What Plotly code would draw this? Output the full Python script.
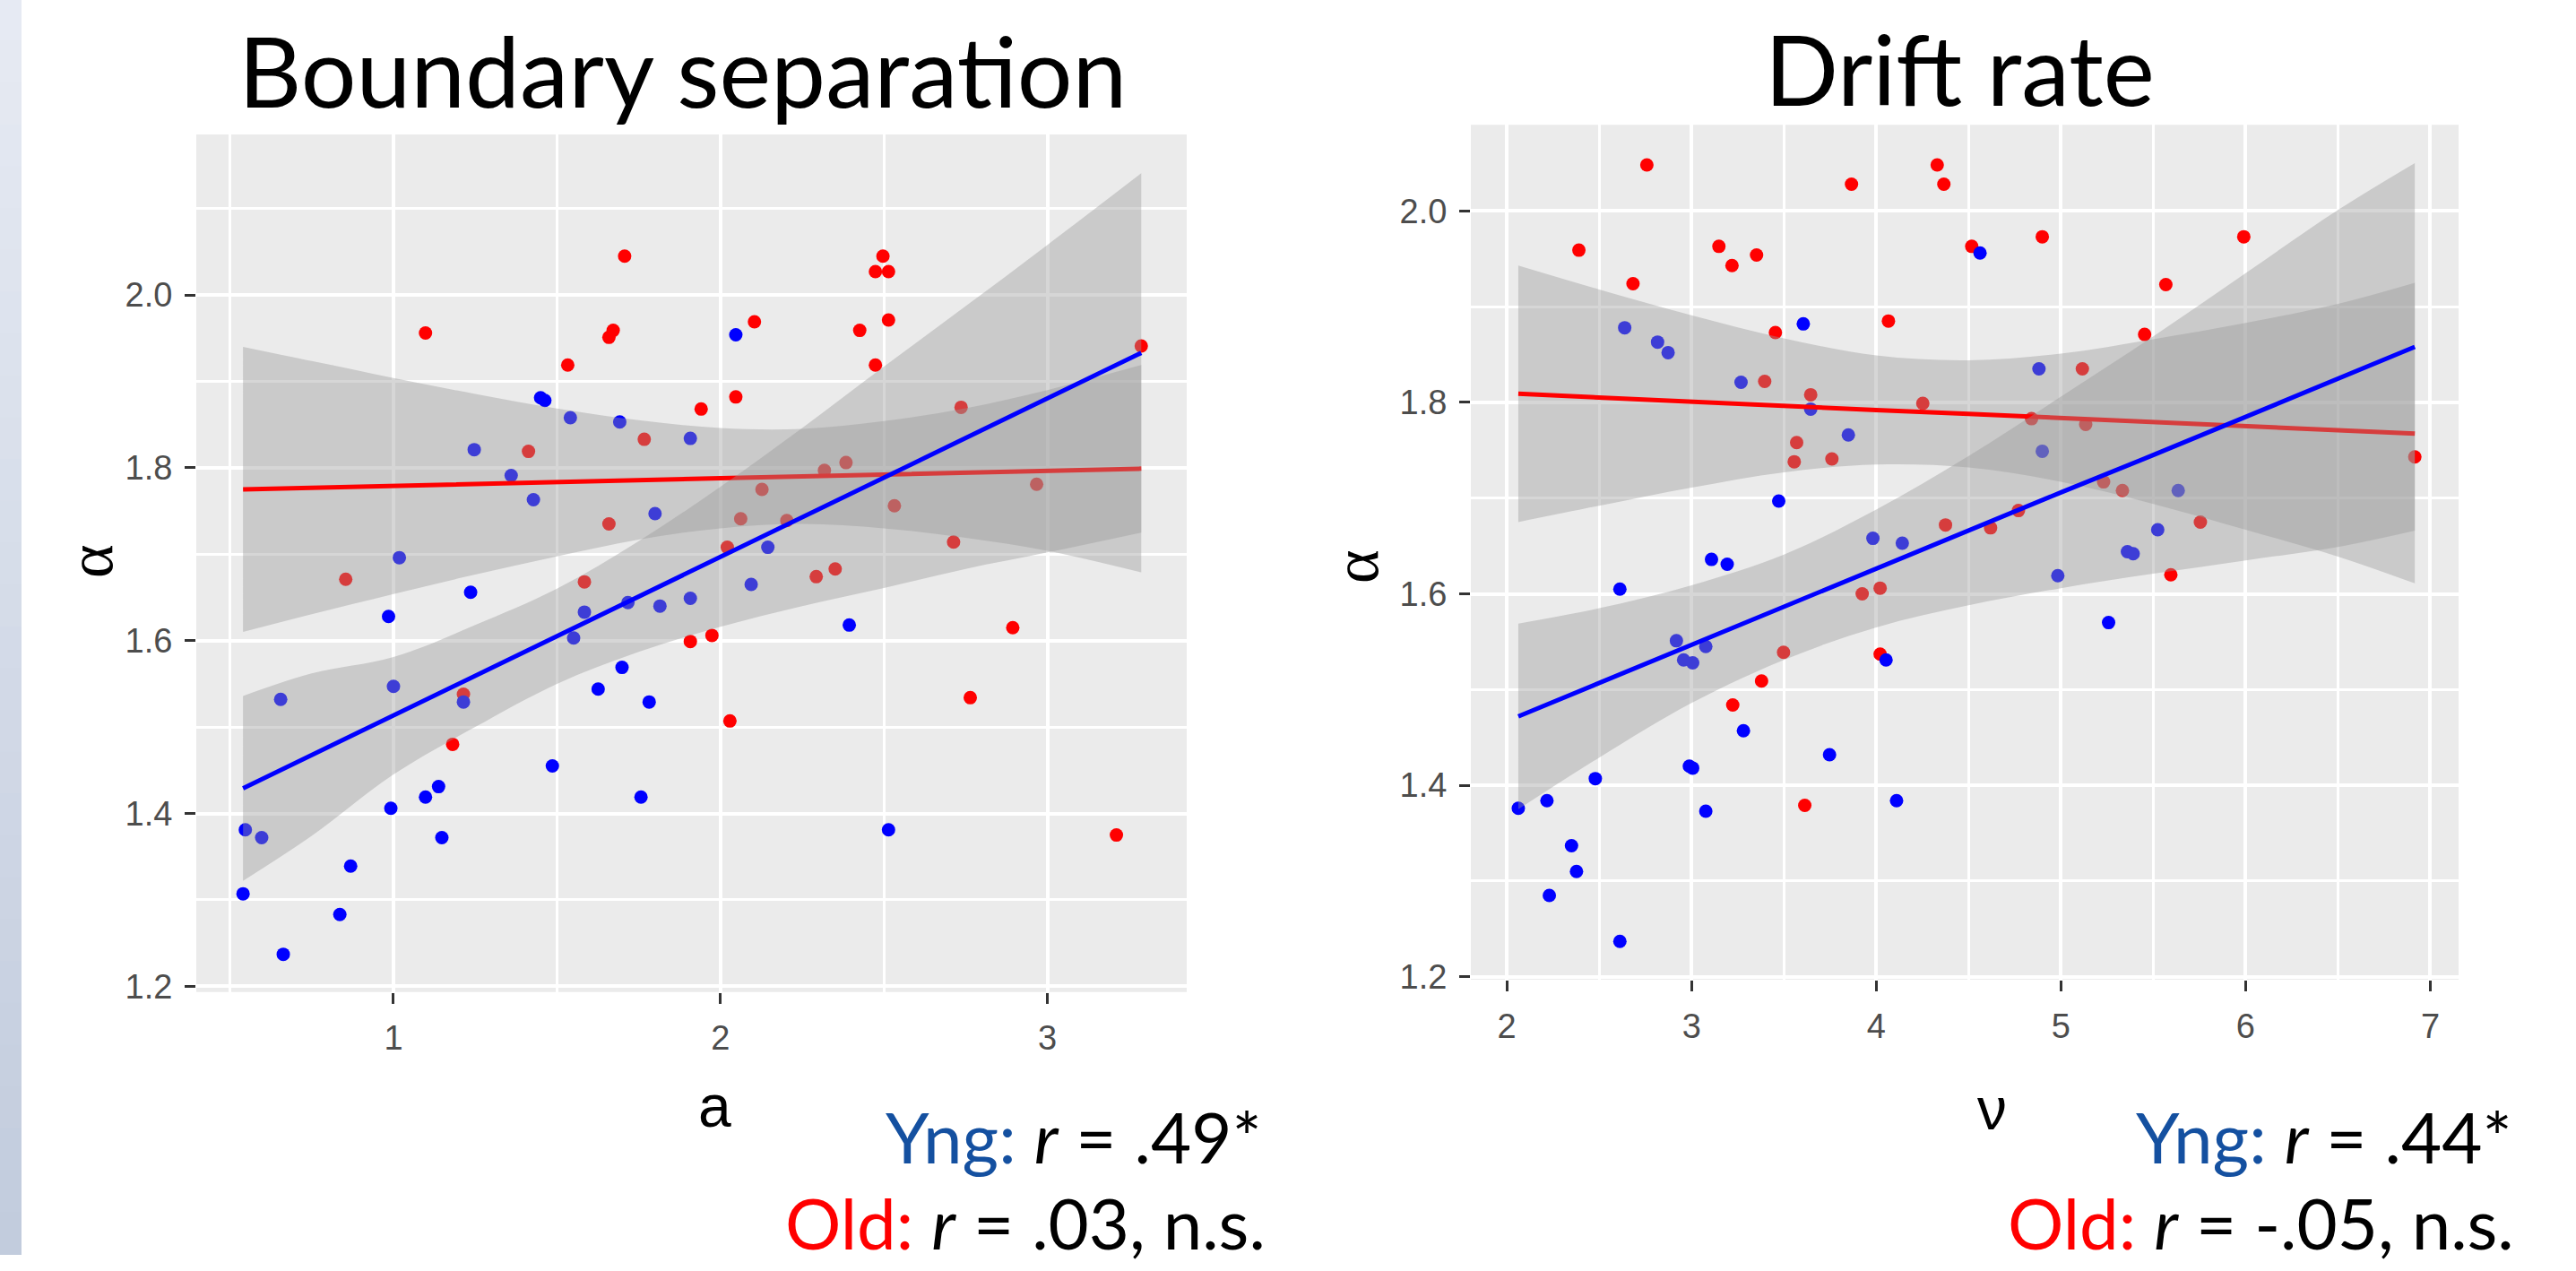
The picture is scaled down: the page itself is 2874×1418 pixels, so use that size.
import plotly.graph_objects as go

# ---------------- data: Boundary separation panel ----------------
bs_young_a = [0.540, 0.547, 0.597, 0.663, 0.655, 0.836, 0.869, 0.985, 0.992, 1.000, 1.018, 1.098, 1.138, 1.148,
              1.214, 1.236, 1.247, 1.360, 1.428, 1.450, 1.463, 1.486, 1.541, 1.551, 1.584, 1.626, 1.692, 1.699,
              1.717, 1.757, 1.782, 1.800, 1.815, 1.908, 1.908, 2.047, 2.094, 2.145, 2.394, 2.514]
bs_young_alpha = [1.307, 1.381, 1.372, 1.237, 1.532, 1.283, 1.339, 1.628, 1.406, 1.547, 1.696, 1.419, 1.431, 1.372,
                  1.529, 1.656, 1.821, 1.791, 1.763, 1.881, 1.878, 1.455, 1.858, 1.603, 1.633, 1.544, 1.853, 1.569,
                  1.644, 1.419, 1.529, 1.747, 1.640, 1.834, 1.649, 1.954, 1.665, 1.708, 1.618, 1.381]
bs_old_a = [0.854, 1.098, 1.181, 1.214, 1.413, 1.533, 1.584, 1.659, 1.672, 1.659, 1.707, 1.767, 1.908, 1.941,
            1.974, 2.021, 2.029, 2.047, 2.062, 2.104, 2.127, 2.203, 2.293, 2.318, 2.351, 2.384, 2.426, 2.474,
            2.474, 2.514, 2.497, 2.514, 2.532, 2.713, 2.736, 2.764, 2.894, 2.967, 3.211, 3.287]
bs_old_alpha = [1.671, 1.956, 1.480, 1.538, 1.819, 1.919, 1.668, 1.951, 1.959, 1.735, 2.045, 1.833, 1.599, 1.868,
                1.606, 1.708, 1.507, 1.882, 1.741, 1.969, 1.775, 1.739, 1.674, 1.797, 1.683, 1.806, 1.959, 1.919,
                2.027, 2.027, 2.045, 1.971, 1.756, 1.714, 1.870, 1.534, 1.615, 1.781, 1.375, 1.941]

# smooth fits
bs_fit_a = [0.54, 0.75, 1.0, 1.25, 1.5, 1.75, 2.0, 2.25, 2.5, 2.75, 3.0, 3.287]
bs_young_fit = [1.429, 1.4675, 1.513, 1.559, 1.605, 1.651, 1.697, 1.743, 1.789, 1.835, 1.880, 1.933]
bs_young_upper = [1.536, 1.562, 1.581, 1.618, 1.660, 1.715, 1.778, 1.846, 1.917, 1.987, 2.058, 2.141]
bs_young_lower = [1.322, 1.374, 1.445, 1.500, 1.550, 1.587, 1.616, 1.640, 1.661, 1.683, 1.702, 1.725]
bs_old_fit = [1.775, 1.777, 1.779, 1.781, 1.783, 1.786, 1.788, 1.790, 1.792, 1.794, 1.797, 1.799]
bs_old_upper = [1.940, 1.9235, 1.904, 1.8855, 1.8685, 1.855, 1.846, 1.845, 1.854, 1.869, 1.890, 1.919]
bs_old_lower = [1.610, 1.6305, 1.654, 1.6765, 1.6975, 1.717, 1.730, 1.735, 1.730, 1.719, 1.704, 1.679]

# ---------------- data: Drift rate panel ----------------
dr_young_v = [2.062, 2.217, 2.230, 2.350, 2.377, 2.479, 2.612, 2.612, 2.638, 2.816, 2.873, 2.918, 2.957, 3.006,
              2.988, 3.006, 3.077, 3.077, 3.108, 3.193, 3.268, 3.281, 3.472, 3.605, 3.645, 3.747, 3.849, 3.982,
              4.053, 4.110, 4.141, 4.562, 4.881, 4.899, 4.983, 5.258, 5.360, 5.391, 5.524, 5.635]
dr_young_alpha = [1.376, 1.384, 1.285, 1.337, 1.310, 1.407, 1.605, 1.237, 1.878, 1.863, 1.852, 1.551, 1.531, 1.528,
                  1.420, 1.418, 1.545, 1.373, 1.636, 1.631, 1.821, 1.457, 1.697, 1.882, 1.793, 1.432, 1.766, 1.658,
                  1.531, 1.384, 1.653, 1.956, 1.835, 1.749, 1.619, 1.570, 1.644, 1.642, 1.667, 1.708]
dr_old_v = [2.390, 2.683, 2.758, 3.148, 3.219, 3.223, 3.352, 3.379, 3.396, 3.454, 3.498, 3.556, 3.569, 3.613,
            3.645, 3.760, 3.866, 3.924, 4.021, 4.021, 4.066, 4.252, 4.330, 4.366, 4.375, 4.517, 4.619, 4.770,
            4.841, 4.899, 5.116, 5.134, 5.231, 5.333, 5.453, 5.568, 5.595, 5.755, 5.990, 6.916]
dr_old_alpha = [1.959, 1.924, 2.048, 1.963, 1.943, 1.484, 1.954, 1.509, 1.822, 1.873, 1.539, 1.738, 1.758, 1.379,
                1.808, 1.741, 2.028, 1.600, 1.606, 1.537, 1.885, 1.799, 2.048, 2.028, 1.672, 1.963, 1.669, 1.687,
                1.783, 1.973, 1.835, 1.777, 1.717, 1.708, 1.871, 1.923, 1.620, 1.675, 1.973, 1.743]

dr_fit_v = [2.062, 2.5, 3.0, 3.5, 4.0, 4.5, 5.0, 5.5, 6.0, 6.5, 6.916]
dr_young_fit = [1.472, 1.507, 1.547, 1.586, 1.626, 1.666, 1.706, 1.745, 1.785, 1.825, 1.858]
dr_young_upper = [1.569, 1.585, 1.609, 1.641, 1.688, 1.744, 1.806, 1.869, 1.935, 2.001, 2.050]
dr_young_lower = [1.375, 1.429, 1.486, 1.531, 1.565, 1.588, 1.606, 1.621, 1.635, 1.649, 1.666]
dr_old_fit = [1.809, 1.805, 1.801, 1.797, 1.792, 1.788, 1.784, 1.780, 1.775, 1.771, 1.7675]
dr_old_upper = [1.943, 1.918, 1.891, 1.867, 1.849, 1.844, 1.851, 1.866, 1.883, 1.903, 1.925]
dr_old_lower = [1.675, 1.692, 1.711, 1.727, 1.735, 1.732, 1.717, 1.694, 1.667, 1.639, 1.611]

# ---------------- styles ----------------
W, H = 2874, 1418
BLUE, RED = "#0000FF", "#FF0000"
RIBBON = "rgba(153,153,153,0.4)"
MS = 15
LW = 5

fig = go.Figure()


def add_panel(fig, xa, ya, yx, yy, ox, oy, fx, yf, yu, yl, of, ou, ol):
    xr, yr = "x" + ("" if xa == 1 else str(xa)), "y" + ("" if ya == 1 else str(ya))
    fig.add_trace(go.Scatter(x=ox, y=oy, mode="markers", marker=dict(color=RED, size=MS), xaxis=xr, yaxis=yr,
                             showlegend=False, hoverinfo="skip"))
    fig.add_trace(go.Scatter(x=yx, y=yy, mode="markers", marker=dict(color=BLUE, size=MS), xaxis=xr, yaxis=yr,
                             showlegend=False, hoverinfo="skip"))
    # old ribbon + line
    fig.add_trace(go.Scatter(x=fx, y=ol, mode="lines", line=dict(width=0, shape="spline"), xaxis=xr, yaxis=yr,
                             showlegend=False, hoverinfo="skip"))
    fig.add_trace(go.Scatter(x=fx, y=ou, mode="lines", line=dict(width=0, shape="spline"), fill="tonexty",
                             fillcolor=RIBBON, xaxis=xr, yaxis=yr, showlegend=False, hoverinfo="skip"))
    fig.add_trace(go.Scatter(x=fx, y=of, mode="lines", line=dict(color=RED, width=LW), xaxis=xr, yaxis=yr,
                             showlegend=False, hoverinfo="skip"))
    # young ribbon + line
    fig.add_trace(go.Scatter(x=fx, y=yl, mode="lines", line=dict(width=0, shape="spline"), xaxis=xr, yaxis=yr,
                             showlegend=False, hoverinfo="skip"))
    fig.add_trace(go.Scatter(x=fx, y=yu, mode="lines", line=dict(width=0, shape="spline"), fill="tonexty",
                             fillcolor=RIBBON, xaxis=xr, yaxis=yr, showlegend=False, hoverinfo="skip"))
    fig.add_trace(go.Scatter(x=fx, y=yf, mode="lines", line=dict(color=BLUE, width=LW), xaxis=xr, yaxis=yr,
                             showlegend=False, hoverinfo="skip"))


add_panel(fig, 1, 1, bs_young_a, bs_young_alpha, bs_old_a, bs_old_alpha, bs_fit_a,
          bs_young_fit, bs_young_upper, bs_young_lower, bs_old_fit, bs_old_upper, bs_old_lower)
add_panel(fig, 2, 2, dr_young_v, dr_young_alpha, dr_old_v, dr_old_alpha, dr_fit_v,
          dr_young_fit, dr_young_upper, dr_young_lower, dr_old_fit, dr_old_upper, dr_old_lower)

tickfont = dict(family="Liberation Sans, Arial, sans-serif", size=38, color="#4D4D4D")
common = dict(showgrid=True, gridcolor="white", gridwidth=3.5, zeroline=False, showline=False,
              ticks="outside", ticklen=12, tickwidth=3, tickcolor="#333333", tickfont=tickfont,
              ticklabelstandoff=6)

fig.update_layout(
    width=W, height=H, margin=dict(l=0, r=0, t=0, b=0),
    paper_bgcolor="white", plot_bgcolor="#EBEBEB",
    xaxis=dict(domain=[219 / W, 1324 / W], range=[0.397, 3.426], tickmode="linear", tick0=0, dtick=1,
               minor=dict(dtick=0.5, tick0=0, showgrid=True, gridcolor="white", gridwidth=2.5, ticks=""),
               anchor="y", **common),
    yaxis=dict(domain=[1 - 1121 / H, 1 - 152 / H], range=[1.1933, 2.1857], tickmode="linear", tick0=1.2,
               dtick=0.2, tickformat=".1f",
               minor=dict(dtick=0.1, tick0=1.1, showgrid=True, gridcolor="white", gridwidth=2.5, ticks=""),
               anchor="x", **common),
    xaxis2=dict(domain=[1641 / W, 2743 / W], range=[1.805, 7.153], tickmode="linear", tick0=0, dtick=1,
                minor=dict(dtick=0.5, tick0=0, showgrid=True, gridcolor="white", gridwidth=2.5, ticks=""),
                anchor="y2", **common),
    yaxis2=dict(domain=[1 - 1107 / H, 1 - 141 / H], range=[1.197, 2.090], tickmode="linear", tick0=1.2,
                dtick=0.2, tickformat=".1f",
                minor=dict(dtick=0.1, tick0=1.1, showgrid=True, gridcolor="white", gridwidth=2.5, ticks=""),
                anchor="x2", **common),
)

# left decorative gradient strip
top_c, bot_c = (230, 234, 243), (194, 204, 221)
n = 30
for i in range(n):
    t = i / (n - 1)
    c = tuple(round(top_c[k] + (bot_c[k] - top_c[k]) * t) for k in range(3))
    fig.add_shape(type="rect", xref="paper", yref="paper", x0=0, x1=24 / W,
                  y0=1 - (i + 1) / n, y1=1 - i / n + 0.001, line=dict(width=0),
                  fillcolor="rgb(%d,%d,%d)" % c, layer="below")

TXT = "Lato, Open Sans, sans-serif"
ann = []
# titles
ann.append(dict(text="Boundary separation", x=761 / W, y=1 - 78 / H, xanchor="center", yanchor="middle",
                font=dict(family=TXT, size=109, color="black")))
ann.append(dict(text="Drift rate", x=2186 / W, y=1 - 77 / H, xanchor="center", yanchor="middle",
                font=dict(family=TXT, size=108, color="black")))
# axis titles
axf = dict(family="Liberation Sans, Arial, sans-serif", size=66, color="black")
ann.append(dict(text="a", x=797 / W, y=1 - 1250 / H, xanchor="center", yanchor="middle", font=axf))
ann.append(dict(text="ν", x=2222 / W, y=1 - 1253 / H, xanchor="center", yanchor="middle", font=axf))
alf = dict(family="Liberation Serif, serif", size=72, color="black")
ann.append(dict(text="α", x=101 / W, y=1 - 634 / H, xanchor="center", yanchor="middle", textangle=-90, font=alf))
ann.append(dict(text="α", x=1513 / W, y=1 - 640 / H, xanchor="center", yanchor="middle", textangle=-90, font=alf))
# correlation notes
nf = dict(family=TXT, size=78, color="black")
YC, OC = "#1450A0", "#FF0000"
ann.append(dict(text='<span style="color:%s">Yng:</span> <i>r</i> = .49*' % YC, x=1410 / W, y=1 - 1284 / H,
                xanchor="right", yanchor="middle", font=nf))
ann.append(dict(text='<span style="color:%s">Old:</span> <i>r</i> = .03, n.s.' % OC, x=1414 / W, y=1 - 1382 / H,
                xanchor="right", yanchor="middle", font=nf))
ann.append(dict(text='<span style="color:%s">Yng:</span> <i>r</i> = .44*' % YC, x=2805 / W, y=1 - 1284 / H,
                xanchor="right", yanchor="middle", font=nf))
ann.append(dict(text='<span style="color:%s">Old:</span> <i>r</i> = -.05, n.s.' % OC, x=2807 / W, y=1 - 1382 / H,
                xanchor="right", yanchor="middle", font=nf))
for a in ann:
    a.update(xref="paper", yref="paper", showarrow=False)
fig.update_layout(annotations=ann)

fig.write_html("out.html", config={"displayModeBar": False},
               post_script="document.body.style.margin='0';document.body.style.overflow='hidden';")
